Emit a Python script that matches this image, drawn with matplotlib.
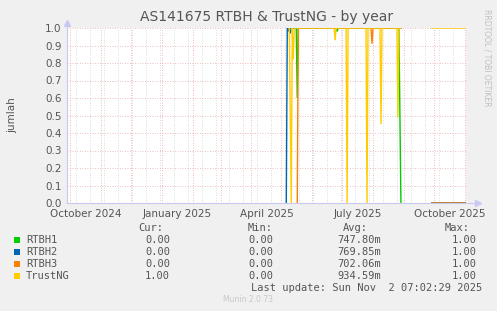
import numpy as np
import pandas as pd
import matplotlib
matplotlib.use("Agg")
import matplotlib.pyplot as plt
from matplotlib.patches import Rectangle

nan = np.nan

# ---------------- data ----------------
series_names = ["RTBH1", "RTBH2", "RTBH3", "TrustNG"]
series_colors = ["#00CC00", "#0066B3", "#FF8000", "#FFCC00"]

rtbh1_dates = ["2025-05-08", "2025-05-16", "2025-05-17", "2025-05-18", "2025-06-25",
               "2025-06-26", "2025-06-27", "2025-08-27", "2025-08-29", "2025-08-30",
               "2025-09-29", "2025-11-02"]
rtbh1_vals = [1.0, 1.0, 0.6, 1.0, 1.0, 0.98, 1.0, 1.0, 0.0, nan, 0.0, 0.0]

rtbh2_dates = ["2025-05-06", "2025-05-07", "2025-05-10", "2025-05-11", "2025-08-29",
               "2025-08-30", "2025-09-29", "2025-11-02"]
rtbh2_vals = [0.0, 1.0, 0.97, 1.0, 1.0, nan, 0.0, 0.0]

rtbh3_dates = ["2025-05-17", "2025-05-18", "2025-07-30", "2025-07-31", "2025-08-01",
               "2025-08-29", "2025-08-30", "2025-09-29", "2025-11-02"]
rtbh3_vals = [0.0, 1.0, 1.0, 0.91, 1.0, 1.0, nan, 0.0, 0.0]

trust_dates = ["2025-05-09", "2025-05-11", "2025-05-12", "2025-05-13", "2025-05-14",
               "2025-06-23", "2025-06-24", "2025-06-25", "2025-07-05", "2025-07-06",
               "2025-07-07", "2025-07-25", "2025-07-26", "2025-07-27", "2025-08-08",
               "2025-08-09", "2025-08-10", "2025-08-25", "2025-08-26", "2025-08-27",
               "2025-08-29", "2025-08-30", "2025-09-29", "2025-11-02"]
trust_vals = [1.0, 0.0, 1.0, 0.82, 1.0,
              1.0, 0.93, 1.0, 1.0, 0.0,
              1.0, 1.0, 0.0, 1.0, 1.0,
              0.45, 1.0, 1.0, 0.49, 1.0,
              1.0, nan, 1.0, 1.0]

legend_cur = ["0.00", "0.00", "0.00", "1.00"]
legend_min = ["0.00", "0.00", "0.00", "0.00"]
legend_avg = ["747.80m", "769.85m", "702.06m", "934.59m"]
legend_max = ["1.00", "1.00", "1.00", "1.00"]

x_tick_labels = ["October 2024", "January 2025", "April 2025", "July 2025", "October 2025"]
x_tick_pos = ["2024-10-17", "2025-01-16", "2025-04-17", "2025-07-17", "2025-10-17"]
y_ticks = [0.0, 0.1, 0.2, 0.3, 0.4, 0.5, 0.6, 0.7, 0.8, 0.9, 1.0]

title = "AS141675 RTBH & TrustNG - by year"
ylabel = "jumlah"
start = "2024-09-28"
end = "2025-11-02 07:02"

# ---------------- figure ----------------
W, H = 497, 311
fig = plt.figure(figsize=(W / 100, H / 100), dpi=100, facecolor="#F0F0F0")
ax = fig.add_axes([67 / W, (H - 203) / H, 399 / W, 175 / H])
ax.set_facecolor("white")

xmin, xmax = pd.Timestamp(start), pd.Timestamp(end)
ax.set_xlim(xmin, xmax)
ax.set_ylim(0, 1.0)

# grid: gray dotted biweekly, red dotted monthly and horizontal
for d in pd.date_range("2024-10-07", end, freq="14D"):
    ax.axvline(d, color="#CFCFCF", lw=0.6, ls=(0, (1, 2)), zorder=1)
for d in pd.date_range("2024-10-01", end, freq="MS"):
    ax.axvline(d, color="#E8A8A8", lw=0.6, ls=(0, (1, 2)), zorder=1)
for v in y_ticks[1:]:
    ax.axhline(v, color="#E8A8A8", lw=0.6, ls=(0, (1, 2)), zorder=1)

data = [(rtbh1_dates, rtbh1_vals), (rtbh2_dates, rtbh2_vals),
        (rtbh3_dates, rtbh3_vals), (trust_dates, trust_vals)]
for (ds, vs), c in zip(data, series_colors):
    ax.plot(pd.to_datetime(ds), vs, color=c, lw=1.0, zorder=3, solid_joinstyle="miter")

for s in ax.spines.values():
    s.set_visible(False)
ax.plot([0, 0], [0, 1.03], transform=ax.transAxes, color="#C8C8F0", lw=0.8, clip_on=False, zorder=4)
ax.plot([0, 1.03], [0, 0], transform=ax.transAxes, color="#C8C8F0", lw=0.8, clip_on=False, zorder=4)
ax.plot([0], [1.03], marker="^", ms=4, color="#C8C8F0", transform=ax.transAxes, clip_on=False)
ax.plot([1.03], [0], marker=">", ms=4, color="#C8C8F0", transform=ax.transAxes, clip_on=False)

ax.set_yticks(y_ticks)
ax.set_yticklabels([f"{v:.1f}" for v in y_ticks])
ax.set_xticks(pd.to_datetime(x_tick_pos))
ax.set_xticklabels(x_tick_labels)
ax.tick_params(axis="both", length=0, labelsize=7.5, labelcolor="#555555")
ax.tick_params(axis="x", pad=4.5)
ax.tick_params(axis="y", pad=4)

fig.text(267 / W, 1 - 17 / H, title, ha="center", va="center", fontsize=10, color="#555555")
fig.text(12 / W, 1 - 115 / H, ylabel, ha="center", va="center", rotation=90, fontsize=7.5, color="#555555")
fig.text(487 / W, 1 - 58 / H, "RRDTOOL / TOBI OETIKER", ha="center", va="center", rotation=-90,
         fontsize=5.5, color="#C0C0C0")

mono = "DejaVu Sans Mono"
fs = 7.5
tc = "#555555"
fig.text(163 / W, 1 - 228 / H, "Cur:", ha="right", va="center", family=mono, fontsize=fs, color=tc)
fig.text(273 / W, 1 - 228 / H, "Min:", ha="right", va="center", family=mono, fontsize=fs, color=tc)
fig.text(368 / W, 1 - 228 / H, "Avg:", ha="right", va="center", family=mono, fontsize=fs, color=tc)
fig.text(470 / W, 1 - 228 / H, "Max:", ha="right", va="center", family=mono, fontsize=fs, color=tc)
for i, name in enumerate(series_names):
    y = 1 - (240 + 12 * i) / H
    fig.add_artist(Rectangle((14 / W, y - 3 / H), 6 / W, 6 / H, transform=fig.transFigure,
                             facecolor=series_colors[i], edgecolor="none"))
    fig.text(26 / W, y, name, ha="left", va="center", family=mono, fontsize=fs, color=tc)
    fig.text(170 / W, y, legend_cur[i], ha="right", va="center", family=mono, fontsize=fs, color=tc)
    fig.text(273 / W, y, legend_min[i], ha="right", va="center", family=mono, fontsize=fs, color=tc)
    fig.text(381 / W, y, legend_avg[i], ha="right", va="center", family=mono, fontsize=fs, color=tc)
    fig.text(477 / W, y, legend_max[i], ha="right", va="center", family=mono, fontsize=fs, color=tc)
fig.text(482 / W, 1 - 288 / H, "Last update: Sun Nov  2 07:02:29 2025", ha="right", va="center",
         family=mono, fontsize=fs, color=tc)
fig.text(248 / W, 1 - 300 / H, "Munin 2.0.73", ha="center", va="center", fontsize=5.5, color="#C8C8C8")

fig.savefig("out.png", dpi=100, facecolor=fig.get_facecolor())
